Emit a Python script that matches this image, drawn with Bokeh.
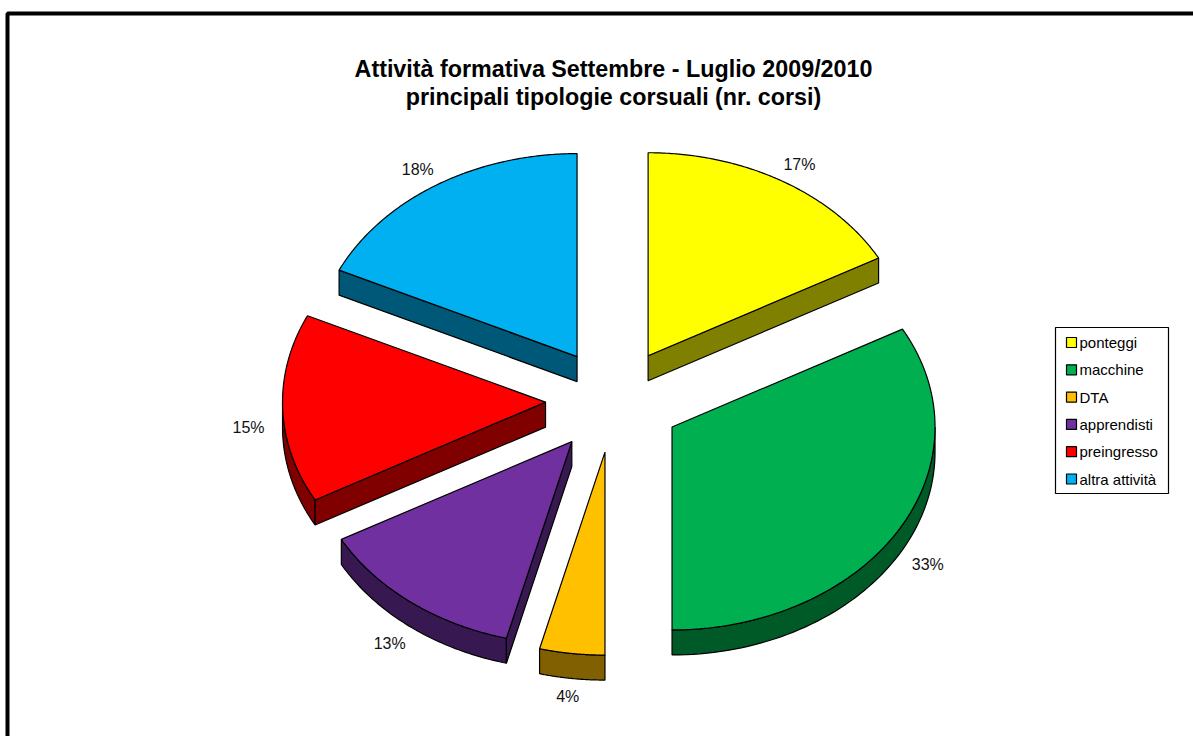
import numpy as np
from bokeh.plotting import figure
from bokeh.models import Range1d
from bokeh.core.properties import value
from bokeh.embed import file_html
from bokeh.resources import INLINE

# ---- data ----
categories = ["ponteggi", "macchine", "DTA", "apprendisti", "preingresso", "altra attività"]
shares = [17, 33, 4, 13, 15, 18]
top_colors = ["#FFFF00", "#00B050", "#FFC000", "#7030A0", "#FF0000", "#00B0F0"]
side_colors = ["#808000", "#005A28", "#806000", "#381850", "#800000", "#005878"]
title_lines = ["Attività formativa Settembre - Luglio 2009/2010",
               "principali tipologie corsuali (nr. corsi)"]

# ---- geometry (screen pixel space, y down) ----
W, H = 1193, 736
cx, cy = 613, 400
rx, ry = 263, 203
ex, ey = 68, 52
depth = 25

p = figure(width=W, height=H, x_range=Range1d(0, W), y_range=Range1d(H, 0),
           output_backend="svg", toolbar_location=None, min_border=0,
           background_fill_color="white", border_fill_color="white")
p.axis.visible = False
p.grid.visible = False
p.outline_line_color = None

# outer frame
p.quad(left=[7], right=[W + 10], top=[13], bottom=[H + 10],
       fill_color=None, line_color="black", line_width=4)

total = float(sum(shares))
fr = np.array(shares) / total
ends = np.cumsum(fr) * 360.0
starts = ends - fr * 360.0
mids = (starts + ends) / 2


def pt(vx, vy, th_deg):
    t = np.radians(th_deg)
    return vx + rx * np.sin(t), vy - ry * np.cos(t)


order = sorted(range(len(shares)), key=lambda i: -np.cos(np.radians(mids[i])))

for i in order:
    a, b, m = starts[i], ends[i], mids[i]
    tm = np.radians(m)
    vx, vy = cx + ex * np.sin(tm), cy - ey * np.cos(tm)
    # outer arc wall (front-facing part)
    lo, hi = max(a, 90.0), min(b, 270.0)
    if hi > lo:
        th = np.linspace(lo, hi, 60)
        xs, ys = pt(vx, vy, th)
        px = list(xs) + list(xs[::-1])
        py = list(ys) + list((ys + depth)[::-1])
        p.patch(px, py, fill_color=side_colors[i], line_color="black", line_width=1.2)
    # radial faces
    for phi, nrm in ((a, a - 90.0), (b, b + 90.0)):
        if np.cos(np.radians(nrm)) < -1e-6:
            ox, oy = pt(vx, vy, phi)
            p.patch([vx, ox, ox, vx], [vy, oy, oy + depth, vy + depth],
                    fill_color=side_colors[i], line_color="black", line_width=1.2)
    # top face
    th = np.linspace(a, b, 120)
    xs, ys = pt(vx, vy, th)
    p.patch([vx] + list(xs), [vy] + list(ys), fill_color=top_colors[i],
            line_color="black", line_width=1.2)

# percentage labels
k = 1.13
lx, ly, lt = [], [], []
for i in range(len(shares)):
    tm = np.radians(mids[i])
    vx, vy = cx + ex * np.sin(tm), cy - ey * np.cos(tm)
    lx.append(vx + k * rx * np.sin(tm))
    off = 8 + 10 * abs(np.sin(tm)) - 8 * np.cos(tm)
    ly.append(vy - k * ry * np.cos(tm) + off)
    lt.append(f"{round(fr[i] * 100)}%")
p.text(lx, ly, text=lt, text_align="center", text_baseline="middle",
       text_font=value("Liberation Sans"), text_font_size="16px", text_color="#111111")

# title
p.text([cx, cx], [68, 96], text=title_lines, text_align="center", text_baseline="middle",
       text_font=value("Liberation Sans"), text_font_size="23.3px", text_font_style="bold",
       text_color="black")

# legend
lg_left, lg_top, lg_right, lg_bottom = 1055, 327, 1168, 493
p.quad(left=[lg_left], right=[lg_right], top=[lg_top], bottom=[lg_bottom],
       fill_color="white", line_color="black", line_width=1.2)
step = 27.3
ys_leg = [342 + step * j for j in range(len(categories))]
p.quad(left=[1066] * len(categories), right=[1076] * len(categories),
       top=[y - 5 for y in ys_leg], bottom=[y + 5 for y in ys_leg],
       fill_color=top_colors, line_color="black", line_width=1.2)
p.text([1079] * len(categories), ys_leg, text=categories, text_align="left",
       text_baseline="middle", text_font=value("Liberation Sans"),
       text_font_size="15px", text_color="black")

open("out.html", "w").write(file_html(p, INLINE))
